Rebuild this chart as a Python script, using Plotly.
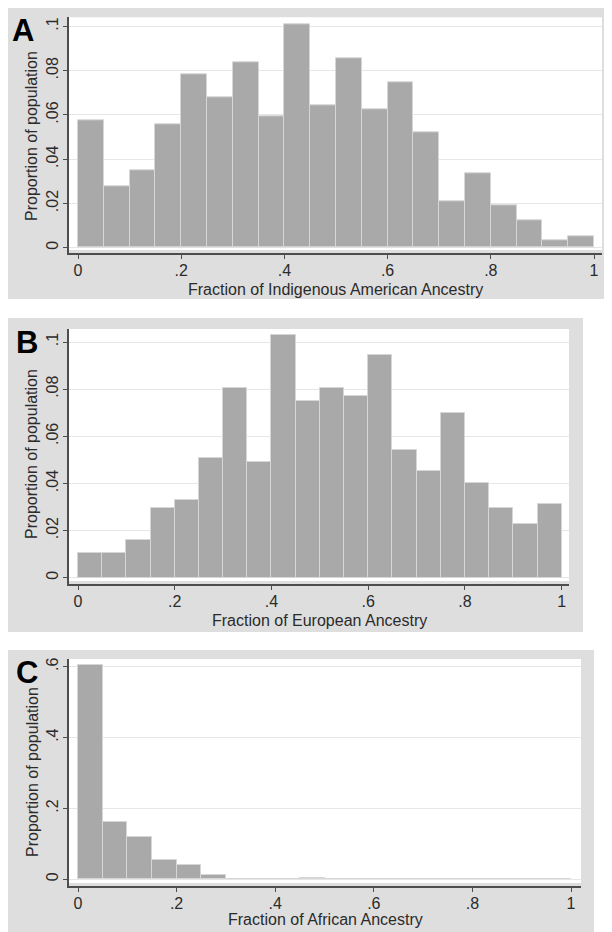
import plotly.graph_objects as go

# ---------------- data ----------------
bin_starts = [0.00, 0.05, 0.10, 0.15, 0.20, 0.25, 0.30, 0.35, 0.40, 0.45,
              0.50, 0.55, 0.60, 0.65, 0.70, 0.75, 0.80, 0.85, 0.90, 0.95]

indigenous = [0.0576, 0.0278, 0.0350, 0.0558, 0.0786, 0.0680, 0.0837, 0.0594, 0.1012, 0.0646,
              0.0855, 0.0627, 0.0750, 0.0522, 0.0210, 0.0335, 0.0192, 0.0122, 0.0035, 0.0051]

european = [0.0104, 0.0104, 0.0158, 0.0296, 0.0330, 0.0506, 0.0804, 0.0489, 0.1031, 0.0750,
            0.0804, 0.0770, 0.0945, 0.0540, 0.0452, 0.0698, 0.0403, 0.0296, 0.0226, 0.0313]

african = [0.604, 0.163, 0.1185, 0.0546, 0.0395, 0.0113, 0.0, 0.0, 0.0, 0.004,
           0.0, 0.0, 0.0, 0.0, 0.0, 0.0, 0.0, 0.0, 0.0, 0.0]

x_tickvals = [0, 0.2, 0.4, 0.6, 0.8, 1.0]
x_ticktext = ["0", ".2", ".4", ".6", ".8", "1"]
y_ticks_ab = [0, 0.02, 0.04, 0.06, 0.08, 0.1]
y_text_ab = ["0", ".02", ".04", ".06", ".08", ".1"]
y_ticks_c = [0, 0.2, 0.4, 0.6]
y_text_c = ["0", ".2", ".4", ".6"]

panel_letters = ["A", "B", "C"]
x_titles = ["Fraction of Indigenous American Ancestry",
            "Fraction of European Ancestry",
            "Fraction of African Ancestry"]
y_title = "Proportion of population"

# ---------------- layout geometry (pixels of the 612x932 page) ----------------
# The page body has an 8px default margin, so the figure is drawn from (8, 8).
OFF = 8
W, H = 612 - OFF, 932 - OFF
FONT = "Liberation Sans, Arial, Helvetica, sans-serif"
TXT = "#2b2b2b"
GRAY_BG = "#dedede"
BAR = "#a9a9a9"
AXIS = "#4d4d4d"

panels = [
    dict(series=indigenous, bg=(8, 612, 8, 299), plot=(69, 602, 17.3, 253), white_bottom=250,
         x0px=78, x1px=594, y0px=247.7, ytop_px=26.5, ytop_val=0.1,
         yticks=y_ticks_ab, ytext=y_text_ab, letter=(23, 31), ytitle_y=136, xtitle_y=289),
    dict(series=european, bg=(8, 583, 318, 632), plot=(69, 569, 329, 584), white_bottom=581,
         x0px=78, x1px=561.7, y0px=577.7, ytop_px=342, ytop_val=0.1,
         yticks=y_ticks_ab, ytext=y_text_ab, letter=(27, 342), ytitle_y=454, xtitle_y=620),
    dict(series=african, bg=(8, 594, 650, 932), plot=(69, 581, 659, 885.7), white_bottom=883,
         x0px=78, x1px=571, y0px=879.3, ytop_px=666.7, ytop_val=0.6,
         yticks=y_ticks_c, ytext=y_text_c, letter=(27, 672), ytitle_y=772, xtitle_y=919),
]


def px(xp):
    return (xp - OFF) / W


def py(yp):
    return 1 - (yp - OFF) / H


fig = go.Figure()
shapes = []
annotations = []

for i, p in enumerate(panels, start=1):
    xa = "xaxis" if i == 1 else f"xaxis{i}"
    ya = "yaxis" if i == 1 else f"yaxis{i}"
    xr = "x" if i == 1 else f"x{i}"
    yr = "y" if i == 1 else f"y{i}"

    left, right, top, bottom = p["plot"]
    xscale = (p["x1px"] - p["x0px"])
    xmin = (left - p["x0px"]) / xscale
    xmax = (right - p["x0px"]) / xscale
    yscale = (p["y0px"] - p["ytop_px"]) / p["ytop_val"]
    ymax = (p["y0px"] - top) / yscale
    ymin = (p["y0px"] - bottom) / yscale

    fig.add_trace(go.Bar(
        x=bin_starts, y=p["series"], width=0.05, offset=0,
        marker=dict(color=BAR, line=dict(color="#d6d6d6", width=1)),
        xaxis=xr, yaxis=yr, showlegend=False, hoverinfo="x+y",
    ))

    fig.layout[xa] = dict(
        domain=[px(left), px(right)], range=[xmin, xmax], anchor=yr,
        tickvals=x_tickvals, ticktext=x_ticktext, ticks="outside", ticklen=4,
        tickwidth=1, tickcolor=AXIS, showline=True, linecolor=AXIS, linewidth=1.6,
        showgrid=False, zeroline=False, fixedrange=True, ticklabelstandoff=-2,
        tickfont=dict(family=FONT, size=16, color=TXT),
    )
    fig.layout[ya] = dict(
        domain=[py(bottom), py(top)], range=[ymin, ymax], anchor=xr,
        tickvals=p["yticks"], ticktext=p["ytext"], ticks="outside", ticklen=4,
        tickwidth=1, tickcolor=AXIS, showline=True, linecolor=AXIS, linewidth=1.6,
        showgrid=True, gridcolor="#e6e6e6", gridwidth=1, zeroline=False,
        tickangle=-90, fixedrange=True, ticklabelstandoff=-1,
        tickfont=dict(family=FONT, size=16, color=TXT),
    )

    bx0, bx1, by0, by1 = p["bg"]
    shapes.append(dict(type="rect", xref="paper", yref="paper",
                       x0=px(bx0), x1=px(bx1), y0=py(by1), y1=py(by0),
                       fillcolor=GRAY_BG, line=dict(width=0), layer="below"))
    shapes.append(dict(type="rect", xref="paper", yref="paper",
                       x0=px(left), x1=px(right), y0=py(p["white_bottom"]), y1=py(top),
                       fillcolor="white", line=dict(width=0), layer="below"))

    lx, ly = p["letter"]
    annotations.append(dict(text=f"<b>{panel_letters[i-1]}</b>", xref="paper", yref="paper",
                            x=px(lx), y=py(ly), xanchor="center", yanchor="middle",
                            showarrow=False, font=dict(family=FONT, size=31, color="black")))
    annotations.append(dict(text=y_title, xref="paper", yref="paper",
                            x=px(32), y=py(p["ytitle_y"]), xanchor="center", yanchor="middle",
                            textangle=-90, showarrow=False,
                            font=dict(family=FONT, size=16, color=TXT)))
    annotations.append(dict(text=x_titles[i-1], xref="paper", yref="paper",
                            x=px((left + right) / 2), y=py(p["xtitle_y"]),
                            xanchor="center", yanchor="middle", showarrow=False,
                            font=dict(family=FONT, size=16, color=TXT)))

fig.update_layout(
    width=W, height=H, margin=dict(l=0, r=0, t=0, b=0),
    paper_bgcolor="white", plot_bgcolor="rgba(0,0,0,0)",
    bargap=0, shapes=shapes, annotations=annotations,
    font=dict(family=FONT, color=TXT),
)

fig.write_html("out.html", config={"displayModeBar": False})
